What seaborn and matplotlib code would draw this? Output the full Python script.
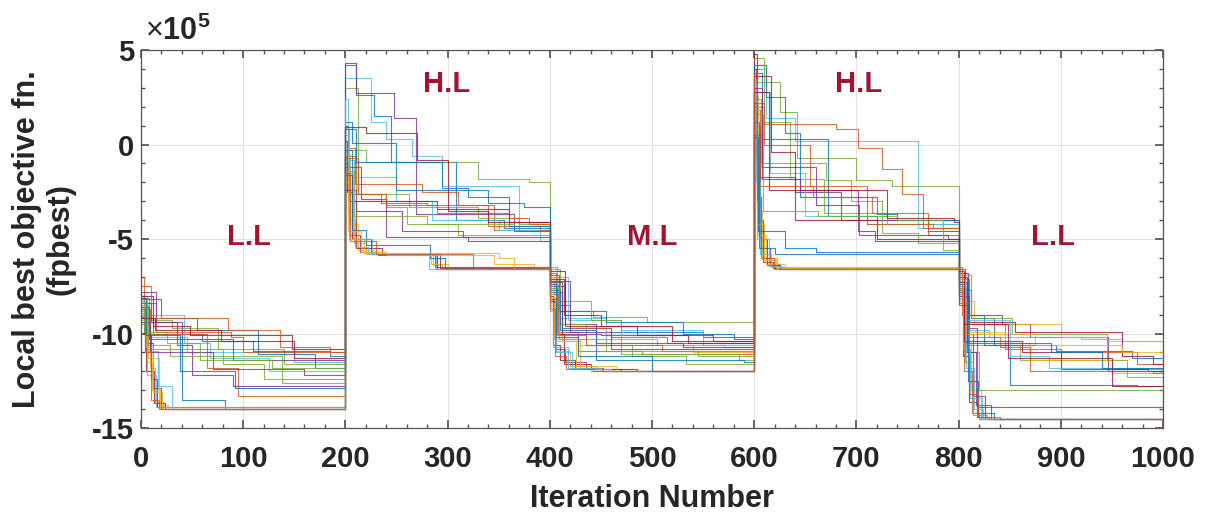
#!/usr/bin/env python3
"""Local best objective value of each particle over five load periods."""

import matplotlib
matplotlib.use("Agg")
import matplotlib.pyplot as plt
import pandas as pd
import seaborn as sns
from matplotlib.ticker import MultipleLocator

# segment start iterations and labels
SEG_STARTS = [0, 200, 400, 600, 800]
SEG_LABELS = ["L.L", "H.L", "M.L", "H.L", "L.L"]
LABEL_X = [106, 299, 500, 702, 892]
LABEL_Y = [-4.9, 3.2, -4.9, 3.2, -4.9]
X_END = 1000

# step points per particle: (iteration offset in segment, fpbest / 1e5)
SEG1 = [
    [(0, -8.3), (4, -9.6), (9, -11.8), (14, -13.6), (22, -14.0)],
    [(0, -8.8), (5, -10.5), (12, -12.9), (20, -14.0)],
    [(0, -8.1), (8, -9.3), (30, -9.7), (75, -10.8), (140, -11.6)],
    [(0, -9.0), (6, -10.2), (45, -11.0), (150, -11.5)],
    [(0, -8.6), (3, -10.0), (10, -12.4), (16, -13.9)],
    [(0, -9.2), (12, -10.0), (60, -10.4), (110, -10.9), (185, -11.2)],
    [(0, -7.0), (3, -8.4), (15, -9.9), (88, -10.2), (100, -11.0)],
    [(0, -8.9), (7, -11.3), (18, -13.8), (26, -14.0)],
    [(0, -8.4), (10, -9.4), (35, -10.6), (50, -12.2), (90, -12.8)],
    [(0, -9.5), (4, -10.8), (80, -11.6), (120, -12.4)],
    [(0, -8.0), (6, -9.0), (42, -10.5), (68, -11.3), (125, -12.0)],
    [(0, -9.1), (5, -12.0), (13, -13.7), (24, -14.0)],
    [(0, -8.2), (20, -9.2), (55, -9.8), (115, -11.1), (170, -11.8)],
    [(0, -8.7), (9, -10.0), (65, -11.8), (95, -13.3)],
    [(0, -9.3), (6, -11.5), (11, -13.0), (19, -14.0)],
    [(0, -7.8), (15, -9.4), (40, -10.3), (90, -11.4)],
    [(0, -8.5), (7, -10.6), (28, -11.2), (138, -12.6)],
    [(0, -9.0), (4, -10.9), (17, -12.8), (30, -14.0)],
    [(0, -8.0), (12, -9.6), (48, -10.1), (148, -10.8)],
    [(0, -8.6), (8, -10.3), (40, -13.5), (82, -14.0)],
    [(0, -7.5), (10, -9.2), (85, -9.8), (136, -10.7), (185, -11.0)],
    [(0, -8.8), (5, -10.7), (12, -13.1), (21, -14.0)],
    [(0, -9.4), (9, -11.0), (70, -11.9), (160, -12.2)],
    [(0, -8.3), (3, -9.9), (25, -10.5), (58, -11.4), (128, -11.8)],
    [(0, -8.9), (6, -12.2), (15, -13.9)],
    [(0, -9.2), (14, -9.8), (78, -10.4), (150, -11.3)],
    [(0, -8.1), (5, -10.1), (38, -12.0), (92, -12.9)],
    [(0, -8.7), (4, -11.0), (10, -13.5), (18, -14.0)],
]

SEG2 = [
    [(0, 0.5), (3, -3.5), (8, -5.2), (20, -5.8), (86, -6.4), (95, -6.6)],
    [(0, -1.0), (4, -4.8), (14, -5.7), (32, -5.85), (88, -6.5)],
    [(0, 3.0), (12, -2.6), (40, -3.3), (60, -4.2), (110, -4.8)],
    [(0, 3.5), (25, 1.2), (40, 0.3), (65, -0.6), (95, -2.2), (170, -4.6), (190, -5.1)],
    [(0, 0.2), (2, -2.5), (6, -5.0), (25, -5.8), (90, -6.6)],
    [(0, 4.2), (10, 2.6), (28, 1.5), (45, -0.9), (108, -4.0), (155, -4.4)],
    [(0, -0.6), (10, -2.6), (35, -3.1), (80, -3.2), (145, -4.5)],
    [(0, -0.5), (5, -4.2), (12, -5.6), (28, -5.8), (84, -6.3), (100, -6.6)],
    [(0, 4.3), (10, 2.7), (48, 1.4), (69, -3.7), (165, -4.6)],
    [(0, -0.3), (20, -0.9), (130, -1.8), (180, -2.0)],
    [(0, -0.8), (8, -1.7), (50, -3.0), (85, -4.0), (150, -4.5)],
    [(0, 1.0), (3, -3.0), (10, -5.5), (36, -5.8), (93, -6.55)],
    [(0, 1.2), (6, 0.1), (50, -2.4), (140, -3.1), (175, -3.3)],
    [(0, -0.2), (9, -2.1), (75, -2.5), (110, -3.2), (140, -4.3), (190, -4.5)],
    [(0, -2.0), (4, -5.0), (18, -5.75), (150, -6.0), (165, -6.6)],
    [(0, -1.2), (15, -2.9), (40, -4.9), (120, -5.1)],
    [(0, -0.7), (4, -2.6), (62, -3.3), (130, -3.9), (170, -4.2)],
    [(0, 0.8), (4, -4.0), (9, -5.4), (22, -5.8), (82, -6.6)],
    [(0, -1.6), (6, -3.0), (90, -3.4), (160, -4.1)],
    [(0, -0.3), (6, -4.5), (20, -5.3), (83, -6.0), (97, -6.6)],
    [(0, -0.7), (12, -2.6), (40, -3.2), (90, -3.6), (160, -3.9), (180, -4.2)],
    [(0, -0.2), (3, -4.6), (15, -5.7), (40, -5.85), (145, -6.3), (185, -6.5)],
    [(0, -2.4), (10, -3.5), (55, -4.6), (115, -4.9)],
    [(0, -1.4), (8, -3.8), (80, -4.2), (165, -4.3)],
    [(0, 2.4), (3, -1.5), (7, -5.0), (26, -5.8), (89, -6.6)],
    [(0, 0.9), (20, 0.6), (70, -0.8), (100, -3.5), (140, -4.1)],
    [(0, 0.8), (10, -0.9), (95, -2.3), (120, -2.8), (160, -4.3)],
    [(0, -1.5), (5, -5.1), (30, -5.8), (125, -6.5)],
]

SEG3 = [
    [(0, -7.0), (4, -9.5), (12, -10.4), (30, -10.6), (140, -11.0)],
    [(0, -8.2), (6, -10.8), (15, -11.5), (35, -11.9), (70, -12.0)],
    [(0, -6.6), (10, -8.8), (42, -9.1), (95, -9.4)],
    [(0, -7.4), (8, -9.2), (55, -10.3), (105, -10.6), (170, -10.7)],
    [(0, -8.0), (3, -10.6), (10, -11.4), (25, -11.8), (52, -12.0)],
    [(0, -7.8), (12, -9.7), (60, -9.9), (150, -10.2)],
    [(0, -6.8), (6, -8.5), (20, -9.7), (60, -10.2), (115, -10.5)],
    [(0, -8.6), (5, -10.9), (20, -11.7), (45, -12.0)],
    [(0, -7.5), (15, -9.5), (45, -10.5), (130, -10.7)],
    [(0, -7.2), (10, -9.5), (35, -10.6), (80, -11.2), (133, -11.6)],
    [(0, -7.0), (18, -9.3), (70, -9.8), (150, -10.6)],
    [(0, -8.3), (4, -10.0), (14, -11.6), (40, -11.9), (85, -12.0)],
    [(0, -6.9), (9, -8.8), (55, -9.4), (130, -10.0), (180, -10.3)],
    [(0, -7.6), (7, -9.9), (28, -10.9), (90, -11.1)],
    [(0, -8.4), (4, -10.3), (30, -11.9), (60, -12.0)],
    [(0, -7.3), (12, -10.0), (50, -10.1), (160, -10.4)],
    [(0, -6.5), (7, -8.3), (40, -9.3), (70, -11.1), (185, -11.4)],
    [(0, -8.5), (6, -11.0), (22, -11.8), (50, -12.0)],
    [(0, -7.1), (14, -9.0), (50, -9.6), (120, -10.4)],
    [(0, -7.7), (10, -9.8), (45, -11.4), (190, -11.5)],
    [(0, -7.9), (8, -10.1), (35, -10.6), (110, -10.9)],
    [(0, -8.1), (5, -10.4), (26, -11.7), (65, -12.0)],
    [(0, -7.2), (20, -9.9), (60, -10.8)],
    [(0, -7.6), (9, -10.3), (55, -10.9), (145, -11.2)],
    [(0, -8.8), (3, -10.7), (18, -11.8), (40, -12.0)],
    [(0, -6.7), (15, -9.6), (85, -10.1), (135, -10.5)],
    [(0, -7.4), (6, -10.2), (28, -11.2), (100, -12.0)],
    [(0, -8.7), (5, -11.2), (16, -11.9), (42, -12.0)],
]

SEG4 = [
    [(0, 3.0), (2, -1.0), (5, -4.5), (10, -6.0), (20, -6.55)],
    [(0, 2.2), (3, -2.8), (7, -5.5), (15, -6.3), (24, -6.6)],
    [(0, 4.6), (10, 3.3), (25, 1.7), (42, -0.7), (100, -1.9), (135, -2.2)],
    [(0, 4.0), (12, 1.4), (40, 0.2), (160, -4.4)],
    [(0, 4.0), (2, -0.5), (4, -4.0), (9, -6.2), (18, -6.55)],
    [(0, 3.8), (8, 0.3), (72, -3.8), (120, -4.0)],
    [(0, 2.0), (10, 1.1), (80, 0.8), (102, -0.2), (125, -1.3), (145, -2.6), (165, -4.4)],
    [(0, 1.5), (3, -3.5), (8, -6.0), (22, -6.6)],
    [(0, 1.0), (6, -1.7), (40, -2.5), (85, -4.0), (170, -4.6)],
    [(0, 3.3), (10, 1.2), (35, -1.8), (68, -3.6), (130, -4.2)],
    [(0, 2.8), (15, -1.5), (50, -3.8), (110, -4.2)],
    [(0, 4.8), (3, 0.5), (6, -5.0), (13, -6.4), (25, -6.6)],
    [(0, 4.2), (12, 2.5), (30, 0.6), (45, -2.8), (120, -3.7), (140, -4.0)],
    [(0, 1.8), (6, -2.2), (58, -2.8), (115, -3.6), (170, -4.8)],
    [(0, 0.8), (4, -4.8), (12, -6.3), (30, -6.6)],
    [(0, 0.5), (8, -1.2), (60, -3.2), (103, -4.8), (190, -5.0)],
    [(0, 2.4), (7, -1.0), (70, -1.9), (95, -3.0), (125, -4.7), (160, -5.2)],
    [(0, 3.4), (2, -2.0), (6, -5.8), (16, -6.5)],
    [(0, 3.6), (16, -0.4), (40, -4.0), (120, -5.0)],
    [(0, 1.2), (5, -5.5), (20, -5.8)],
    [(0, 2.2), (10, 0.0), (55, -2.2), (110, -4.2), (175, -4.4)],
    [(0, 2.6), (4, -4.2), (10, -6.1), (21, -6.55)],
    [(0, 3.0), (8, -1.8), (45, -2.4), (102, -4.6), (118, -5.1)],
    [(0, 1.6), (9, -3.5), (62, -3.8), (140, -4.0), (185, -5.6)],
    [(0, 1.0), (3, -5.0), (14, -6.45), (27, -6.6)],
    [(0, 2.8), (14, -2.4), (130, -3.9), (195, -4.1)],
    [(0, 0.4), (4, -4.6), (30, -5.5), (60, -5.7)],
    [(0, 3.8), (3, -3.0), (7, -6.0), (19, -6.57)],
]

SEG5 = [
    [(0, -7.2), (5, -10.5), (12, -13.0), (22, -14.5)],
    [(0, -7.4), (8, -9.0), (42, -9.5), (70, -10.2), (146, -12.0)],
    [(0, -7.0), (6, -10.6), (60, -11.4), (150, -11.9)],
    [(0, -8.1), (5, -9.8), (30, -10.2), (120, -10.3), (160, -10.4)],
    [(0, -7.8), (4, -11.2), (10, -13.6), (18, -14.4), (30, -14.5)],
    [(0, -7.7), (12, -9.2), (35, -10.6), (95, -10.9), (170, -11.3)],
    [(0, -7.1), (10, -9.5), (45, -10.8), (100, -11.0), (175, -11.6)],
    [(0, -8.3), (15, -9.5), (100, -10.2), (145, -10.4)],
    [(0, -6.6), (6, -10.0), (14, -13.3), (26, -14.5)],
    [(0, -7.9), (6, -11.0), (20, -13.0)],
    [(0, -7.5), (7, -11.8), (15, -14.0), (24, -14.5)],
    [(0, -6.8), (9, -9.4), (55, -9.9), (160, -11.2), (190, -11.6)],
    [(0, -7.3), (8, -9.0), (25, -10.6), (50, -12.7), (175, -12.8)],
    [(0, -8.0), (5, -12.0), (13, -14.2), (20, -14.5)],
    [(0, -8.2), (7, -9.9), (45, -10.5), (70, -11.4), (150, -12.1)],
    [(0, -7.0), (8, -11.0), (17, -13.8), (32, -14.5)],
    [(0, -6.9), (12, -9.2), (52, -10.0), (145, -11.4), (165, -12.3)],
    [(0, -7.9), (4, -10.8), (11, -13.4), (23, -14.5)],
    [(0, -7.6), (5, -10.4), (62, -11.0), (100, -11.9), (185, -12.0)],
    [(0, -7.3), (9, -12.5), (19, -14.2), (35, -14.5)],
    [(0, -8.4), (8, -10.2), (40, -10.7), (70, -12.0), (190, -12.1)],
    [(0, -7.1), (6, -10.0), (75, -10.6), (160, -11.0)],
    [(0, -8.0), (10, -9.7), (18, -13.9)],
    [(0, -7.6), (6, -11.5), (14, -14.3), (28, -14.5)],
    [(0, -7.5), (4, -9.3), (50, -11.2), (88, -11.8)],
    [(0, -6.7), (5, -9.5), (48, -11.3), (150, -12.8)],
    [(0, -8.5), (8, -10.5), (90, -11.0), (140, -11.8)],
    [(0, -6.5), (3, -9.0), (10, -13.2), (19, -14.4), (40, -14.5)],
]

SEGMENTS = [SEG1, SEG2, SEG3, SEG4, SEG5]

# MATLAB default line colour order
MATLAB_COLORS = ["#0072BD", "#D95319", "#EDB120", "#7E2F8E",
                 "#77AC30", "#4DBEEE", "#A2142F"]
COLOR_SHIFT = 2
LABEL_COLOR = "#A2142F"
TEXT_COLOR = "#262626"


def build_frame() -> pd.DataFrame:
    rows = []
    for p in range(len(SEG1)):
        last = None
        for start, seg in zip(SEG_STARTS, SEGMENTS):
            for off, val in seg[p]:
                rows.append((p, start + off, val))
                last = val
        rows.append((p, X_END, last))
    return pd.DataFrame(rows, columns=["particle", "iteration", "fpbest"])


def main() -> None:
    df = build_frame()
    n = df["particle"].nunique()
    palette = [MATLAB_COLORS[(i + COLOR_SHIFT) % len(MATLAB_COLORS)]
               for i in range(n)]

    sns.set_theme(style="ticks")
    plt.rcParams["font.family"] = ["Liberation Sans", "DejaVu Sans"]
    plt.rcParams["axes.unicode_minus"] = False
    plt.rcParams["mathtext.fontset"] = "custom"
    plt.rcParams["mathtext.rm"] = "Liberation Sans"
    plt.rcParams["mathtext.bf"] = "Liberation Sans:bold"

    fig = plt.figure(figsize=(12.12, 5.16), dpi=100)
    ax = fig.add_axes([0.1163, 0.1705, 0.8433, 0.7326])

    sns.lineplot(
        data=df, x="iteration", y="fpbest", hue="particle",
        palette=palette, estimator=None, sort=False, legend=False,
        drawstyle="steps-post", linewidth=0.8, alpha=0.8, ax=ax,
    )

    for x, y, lab in zip(LABEL_X, LABEL_Y, SEG_LABELS):
        ax.text(x, y, lab, color=LABEL_COLOR, fontsize=21,
                fontweight="bold", ha="center", va="center")

    ax.set_xlim(0, 1000)
    ax.set_ylim(-15, 5)
    ax.xaxis.set_major_locator(MultipleLocator(100))
    ax.xaxis.set_minor_locator(MultipleLocator(20))
    ax.yaxis.set_major_locator(MultipleLocator(5))
    ax.yaxis.set_minor_locator(MultipleLocator(1))
    ax.grid(True, which="major", color="#e3e3e3", linewidth=0.8)
    ax.tick_params(which="both", direction="in", top=True, right=True,
                   colors="#555555", labelcolor=TEXT_COLOR)
    ax.tick_params(which="major", length=6, labelsize=21)
    ax.tick_params(which="minor", length=3)
    ax.tick_params(axis="x", which="major", pad=12)
    ax.tick_params(axis="y", which="major", pad=5)
    for lab in ax.get_xticklabels() + ax.get_yticklabels():
        lab.set_fontweight("bold")
    for sp in ax.spines.values():
        sp.set_color("#555555")
        sp.set_linewidth(0.9)

    ax.set_xlabel("Iteration Number", fontsize=22, fontweight="bold",
                  color=TEXT_COLOR, labelpad=8)
    ax.set_ylabel("Local best objective fn.\n(fpbest)", fontsize=22,
                  fontweight="bold", color=TEXT_COLOR, labelpad=12,
                  linespacing=1.15)
    ax.text(0.004, 1.008, r"$\times\mathbf{10^{5}}$", transform=ax.transAxes,
            fontsize=22, color=TEXT_COLOR, ha="left", va="bottom")

    fig.savefig("out.png", dpi=100)
    plt.close(fig)


if __name__ == "__main__":
    main()
